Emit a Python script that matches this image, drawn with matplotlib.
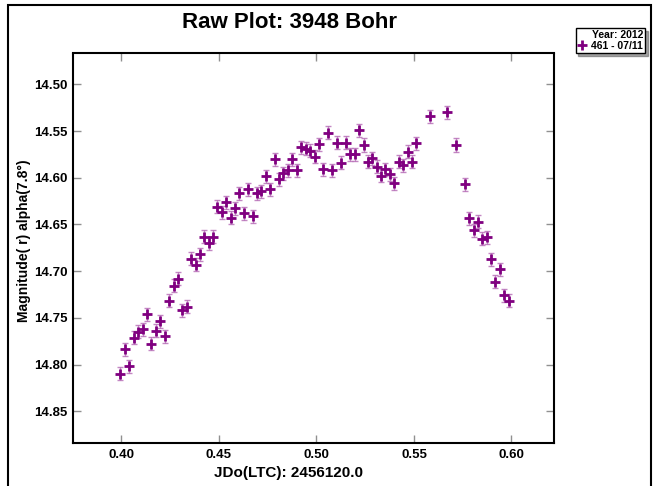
import matplotlib
matplotlib.use("Agg")
import matplotlib.pyplot as plt
from matplotlib.patches import Rectangle

plt.rcParams["font.family"] = ["Liberation Sans", "DejaVu Sans"]
plt.rcParams["font.weight"] = "bold"

# Observaciones de la noche 461 - 07/11 (JD - 2456120.0, magnitud reducida)
jd = [0.3995, 0.4017, 0.4040, 0.4064, 0.4086, 0.4108, 0.4132, 0.4154, 0.4176,
      0.4199, 0.4221, 0.4245, 0.4267, 0.4289, 0.4311, 0.4334, 0.4357, 0.4380,
      0.4402, 0.4424, 0.4447, 0.4469, 0.4491, 0.4513, 0.4537, 0.4560, 0.4582,
      0.4604, 0.4626, 0.4650, 0.4672, 0.4694, 0.4716, 0.4739, 0.4763, 0.4785,
      0.4807, 0.4829, 0.4852, 0.4875, 0.4900, 0.4922, 0.4944, 0.4966, 0.4992,
      0.5013, 0.5036, 0.5060, 0.5081, 0.5105, 0.5127, 0.5149, 0.5173, 0.5195,
      0.5217, 0.5242, 0.5264, 0.5286, 0.5308, 0.5330, 0.5352, 0.5375, 0.5399,
      0.5421, 0.5443, 0.5467, 0.5489, 0.5511, 0.5580, 0.5669, 0.5713, 0.5760,
      0.5783, 0.5806, 0.5828, 0.5850, 0.5872, 0.5894, 0.5918, 0.5941, 0.5963,
      0.5985]
mag = [14.8097, 14.7836, 14.8018, 14.7715, 14.7651, 14.7622, 14.7461, 14.7775,
       14.7640, 14.7536, 14.7697, 14.7319, 14.7158, 14.7079, 14.7418, 14.7383,
       14.6867, 14.6929, 14.6818, 14.6633, 14.6700, 14.6633, 14.6311, 14.6371,
       14.6261, 14.6429, 14.6329, 14.6168, 14.6382, 14.6122, 14.6411, 14.6168,
       14.6143, 14.5983, 14.6122, 14.5800, 14.6015, 14.5954, 14.5918, 14.5800,
       14.5918, 14.5672, 14.5688, 14.5709, 14.5776, 14.5642, 14.5911, 14.5519,
       14.5918, 14.5626, 14.5840, 14.5626, 14.5747, 14.5747, 14.5490, 14.5650,
       14.5829, 14.5793, 14.5883, 14.5979, 14.5911, 14.5964, 14.6061, 14.5829,
       14.5865, 14.5722, 14.5829, 14.5632, 14.5340, 14.5300, 14.5650, 14.6068,
       14.6436, 14.6564, 14.6472, 14.6654, 14.6638, 14.6872, 14.7115, 14.6982,
       14.7258, 14.7319]
err = 0.007

x_ticks = [0.40, 0.45, 0.50, 0.55, 0.60]
y_ticks = [14.50, 14.55, 14.60, 14.65, 14.70, 14.75, 14.80, 14.85]

fig = plt.figure(figsize=(6.6, 4.86), dpi=100)
ax = fig.add_axes([73.3 / 660, 1 - 443 / 486, 480.7 / 660, 389.5 / 486])

ax.errorbar(jd, mag, yerr=err, fmt="none", ecolor="#b060b0", elinewidth=1.0,
            capsize=2.5, capthick=1.0, alpha=0.75)
ax.plot(jd, mag, linestyle="none", marker="+", color="#800080",
        markersize=7, markeredgewidth=2.0, label="461 - 07/11")

ax.set_xlim(0.3753, 0.6218)
ax.set_ylim(14.884, 14.467)
ax.set_xticks(x_ticks)
ax.set_yticks(y_ticks)
ax.set_xticklabels([f"{v:.2f}" for v in x_ticks])
ax.set_yticklabels([f"{v:.2f}" for v in y_ticks])
ax.tick_params(direction="in", length=6, width=1, color="#909090",
               top=True, right=True, labelsize=9.5, pad=4)
for s in ax.spines.values():
    s.set_linewidth(1.5)

ax.set_xlabel("JDo(LTC): 2456120.0", fontsize=11, fontweight="bold")
ax.set_ylabel("Magnitude( r) alpha(7.8°)", fontsize=10, fontweight="bold")
ax.xaxis.set_label_coords((289 - 73.3) / 480.7, -0.06)
ax.yaxis.set_label_coords((31 - 73.3) / 480.7, (443 - 241) / 389.5)

fig.text(289 / 660, 1 - 22 / 486, "Raw Plot: 3948 Bohr", ha="center", va="center",
         fontsize=16, fontweight="bold")

leg = ax.legend(title="Year: 2012", loc="upper right",
                bbox_to_anchor=(645 / 660, 1 - 28 / 486), bbox_transform=fig.transFigure,
                fontsize=7.5, title_fontsize=7.5, alignment="right", fancybox=False,
                shadow=True, borderaxespad=0, borderpad=0.2, handlelength=0.8,
                handletextpad=0.5, labelspacing=0.1, framealpha=1)
leg.get_frame().set_edgecolor("black")
leg.get_frame().set_linewidth(1)
leg.get_title().set_fontweight("bold")
for t in leg.get_texts():
    t.set_fontweight("bold")

# marco exterior de la figura
fig.patches.append(Rectangle((8 / 660, -0.05), 643 / 660, 1.05 - 5 / 486,
                             transform=fig.transFigure, fill=False,
                             edgecolor="black", linewidth=1.5))

fig.savefig("out.png", dpi=100)
